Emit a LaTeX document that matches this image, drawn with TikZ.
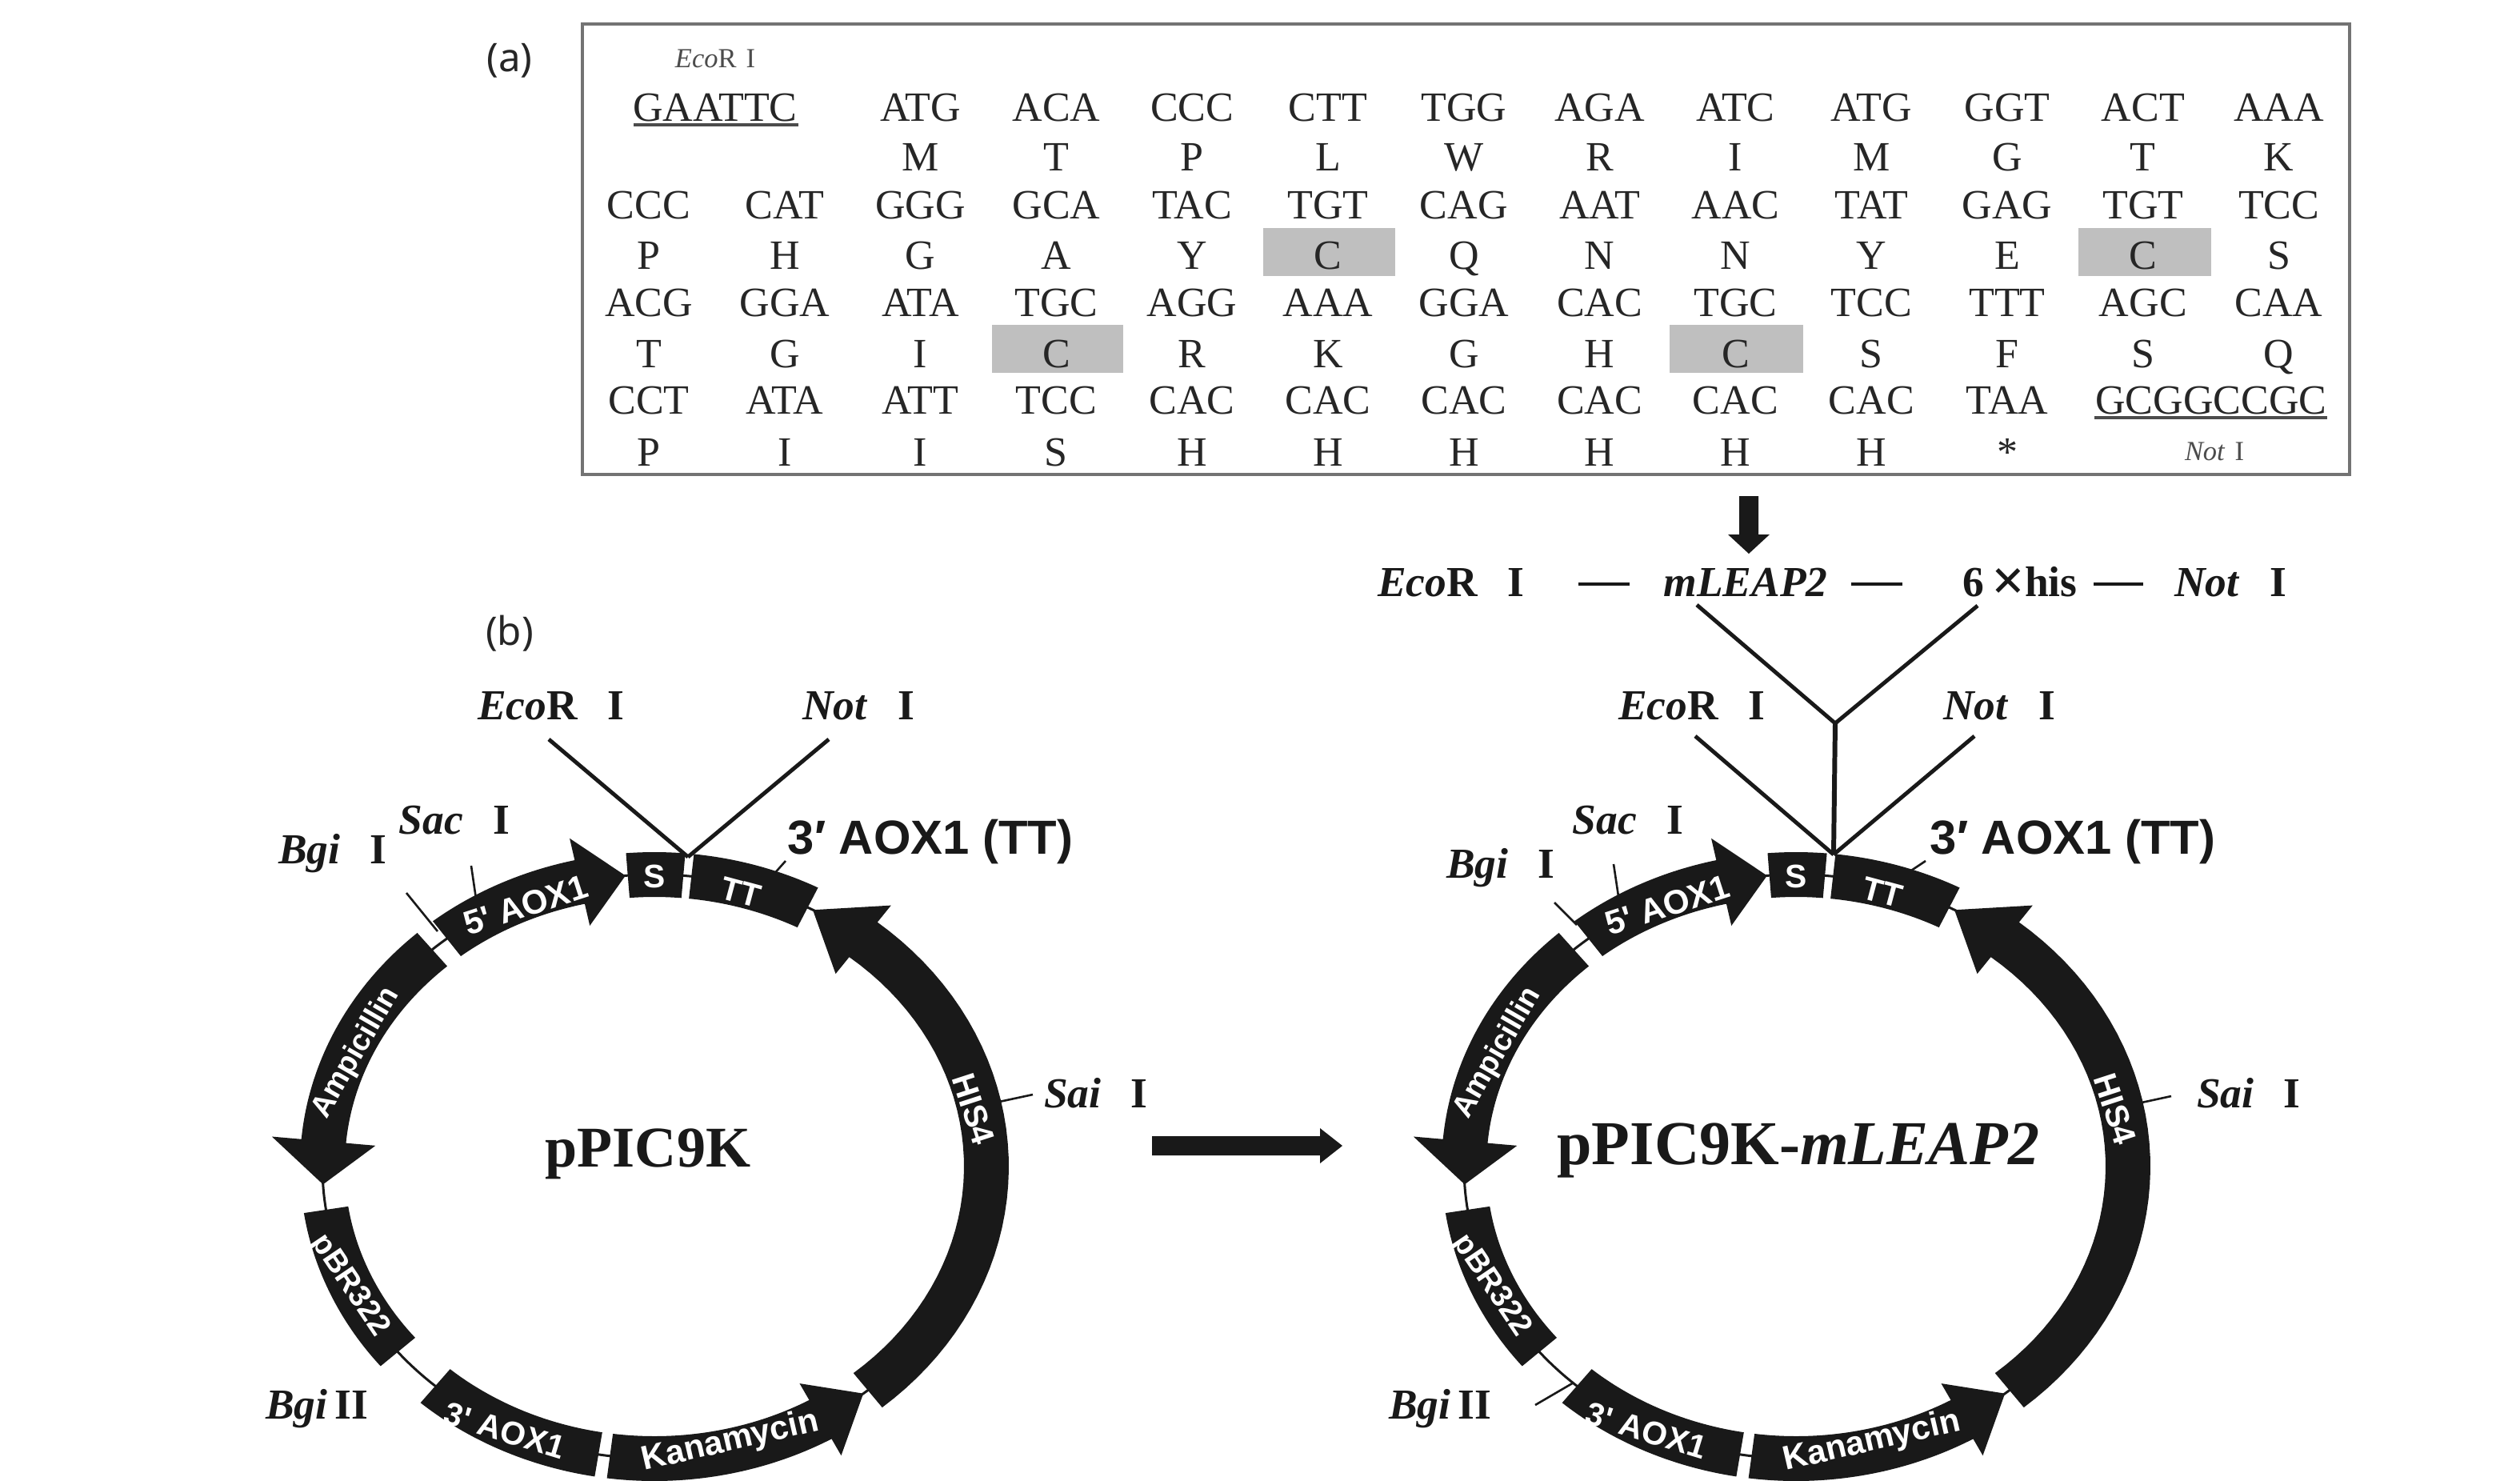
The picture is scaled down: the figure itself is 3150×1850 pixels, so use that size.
\documentclass[tikz,border=0pt]{standalone}
\usepackage{fontspec}
\setmainfont{Liberation Serif}
\newfontfamily\lsans{Liberation Sans}
\newfontfamily\nsans{Noto Sans}
\newcommand\rowtext[3]{%
  \foreach \t [count=\c from #2] in {#3} {
    \pgfmathsetmacro\xx{811+169.8*(\c-1)}
    \node[seq] (s#1c\c) at (\xx,#1) {\t};
  }}
\newcommand\enzgap{\hspace{0.7em}}
% band along the ring from angle a to b
\newcommand\band[2]{%
  \fill[ink] plot[domain=#1:#2,samples=30] ({818+443*cos(\x)},{1458+393*sin(\x)})
    -- plot[domain=#2:#1,samples=30] ({818+387*cos(\x)},{1458+337*sin(\x)}) -- cycle;}
% arrow along the ring: tail #1, head base #2, tip #3, head half-width #4
\newcommand\arrowband[4]{%
  \fill[ink] plot[domain=#1:#2,samples=40] ({818+443*cos(\x)},{1458+393*sin(\x)})
    -- ({818+(415+#4)*cos(#2)},{1458+(365+#4)*sin(#2)})
    -- ({818+415*cos(#3)},{1458+365*sin(#3)})
    -- ({818+(415-#4)*cos(#2)},{1458+(365-#4)*sin(#2)})
    -- plot[domain=#2:#1,samples=40] ({818+387*cos(\x)},{1458+337*sin(\x)}) -- cycle;}
\newcommand\plasmidring[1]{%
  \draw[ink,line width=3*0.2845pt] (818,1458) ellipse [x radius=415,y radius=365];
  \band{265.4}{275}
  \band{276.4}{297.5}
  \arrowband{50}{-51}{-61.5}{55}
  \arrowband{97.7}{60}{51}{52}
  \band{99.7}{131.3}
  \band{171.5}{140.6}
  \arrowband{228}{185}{176.5}{65}
  \arrowband{231.3}{257}{265}{56}
  \node[gene] (#1s) at (818,1095) {S};
  \node[gene,rotate=-15] (#1tt) at (926,1115) {TT};
  \node[gene,rotate=-72] (#1his) at (1217,1386) {HIS4};
  \node[gene,rotate=13,font=\lsans\bfseries\fontsize{12}{13}\selectfont] (#1kan) at (913,1802) {Kanamycin};
  \node[gene,rotate=-17] (#1aox3) at (631,1788) {3' AOX1};
  \node[gene,rotate=-56,font=\lsans\bfseries\fontsize{11}{13}\selectfont] (#1pbr) at (437,1607) {pBR322};
  \node[gene,rotate=60,font=\lsans\bfseries\fontsize{10.8}{13}\selectfont] (#1amp) at (445,1316) {Ampicillin};
  \node[gene,rotate=18,font=\lsans\bfseries\fontsize{12}{13}\selectfont] (#1aox5) at (657,1131) {5' AOX1};
}
\tikzset{
  ink/.style={color=black!90},
  seq/.style={anchor=base,inner sep=0pt,text=black!85,font=\fontsize{14.8}{16}\selectfont},
  enz/.style={inner sep=0pt,text=black!90,font=\fontsize{15.2}{17}\selectfont},
  enzbase/.style={enz,anchor=base},
  small/.style={inner sep=0pt,text=black!70,font=\fontsize{9.8}{11}\selectfont},
  gene/.style={inner sep=0pt,text=white,font=\lsans\bfseries\fontsize{11.6}{13}\selectfont},
  ttlabel/.style={inner sep=0pt,text=black!90,font=\lsans\bfseries\fontsize{17}{19}\selectfont},
  paneltag/.style={inner sep=0pt,text=black!85,font=\nsans\fontsize{14}{16}\selectfont},
  site/.style={ink,line width=2.6*0.2845pt},
  arm/.style={ink,line width=1.4pt},
  shade/.style={fill=black!25,draw=none},
}
\begin{document}
\begin{tikzpicture}[x=0.01cm,y=-0.01cm]
\useasboundingbox (0,0) rectangle (3150,1850);
\fill[white] (0,0) rectangle (3150,1850);
% panel tags
\node[paneltag] (taga) at (637,76) {(a)};
\node[paneltag] (tagb) at (637,792) {(b)};
% sequence box
\draw[black!55,line width=1.2pt] (728,30) rectangle (2937,593);
\fill[shade] (1579,285) rectangle (1744,345);
\fill[shade] (2598,285) rectangle (2764,345);
\fill[shade] (1240,406) rectangle (1404,466);
\fill[shade] (2087,406) rectangle (2254,466);
\node[small] (eco) at (894,73) {\textit{Eco}R\hspace{0.35em}I};
\node[seq] (gaattc) at (894,151) {GAATTC};
\draw[black!70,line width=0.9pt] (792,156) -- (998,156);
\rowtext{151}{3}{ATG,ACA,CCC,CTT,TGG,AGA,ATC,ATG,GGT,ACT,AAA}
\rowtext{213}{3}{M,T,P,L,W,R,I,M,G,T,K}
\rowtext{273}{1}{CCC,CAT,GGG,GCA,TAC,TGT,CAG,AAT,AAC,TAT,GAG,TGT,TCC}
\rowtext{336}{1}{P,H,G,A,Y,C,Q,N,N,Y,E,C,S}
\rowtext{395}{1}{ACG,GGA,ATA,TGC,AGG,AAA,GGA,CAC,TGC,TCC,TTT,AGC,CAA}
\rowtext{459}{1}{T,G,I,C,R,K,G,H,C,S,F,S,Q}
\rowtext{517}{1}{CCT,ATA,ATT,TCC,CAC,CAC,CAC,CAC,CAC,CAC,TAA}
\rowtext{582}{1}{P,I,I,S,H,H,H,H,H,H,*}
\node[seq] (gcgg) at (2764,517) {GCGGCCGC};
\draw[black!70,line width=0.9pt] (2618,522) -- (2909,522);
\node[small] (not) at (2768,564) {\textit{Not}\hspace{0.35em}I};
% down arrow and construct row
\fill[ink] (2174,620) -- (2198,620) -- (2198,668) -- (2212,668) -- (2186,692) -- (2160,668) -- (2174,668) -- cycle;
\node[enzbase] (t1) at (1814,745) {\textbf{\textit{Eco}R}\enzgap\textbf{I}};
\node[enzbase] (t2) at (2182,745) {\textbf{\textit{mLEAP2}}};
\node[enzbase] (t3) at (2525,745) {\textbf{6\,\raisebox{-0.1em}{\fontsize{21}{21}\selectfont×}his}};
\node[enzbase] (t4) at (2788,745) {\textbf{\textit{Not}}\enzgap\textbf{I}};
\coordinate (d1a) at (1973,730); \coordinate (d1b) at (2037,730);
\coordinate (d2a) at (2314,730); \coordinate (d2b) at (2378,730);
\coordinate (d3a) at (2617,730); \coordinate (d3b) at (2679,730);
\draw[arm] (d1a) -- (d1b) (d2a) -- (d2b) (d3a) -- (d3b);
% left plasmid
\plasmidring{l}
\node[inner sep=0pt,text=black!90,font=\fontsize{20.5}{22}\selectfont\bfseries] (lname) at (810,1442) {pPIC9K};
\node[enz] (leco) at (689,882) {\textbf{\textit{Eco}R}\enzgap\textbf{I}};
\node[enz] (lnot) at (1073,882) {\textbf{\textit{Not}}\enzgap\textbf{I}};
\node[enz] (lsac) at (568,1025) {\textbf{\textit{Sac}}\enzgap\textbf{I}};
\node[enz] (lbgi) at (416,1067) {\textbf{\textit{Bgi}}\enzgap\textbf{I}};
\node[ttlabel] (ltt) at (1163,1052) {3′ AOX1 (TT)};
\node[enz] (lsai) at (1370,1366) {\textbf{\textit{Sai}}\enzgap\textbf{I}};
\node[enz] (lbgii) at (396,1761) {\textbf{\textit{Bgi}\,II}};
\coordinate (lj) at (860,1071);
\coordinate (le) at (686,924);
\coordinate (ln) at (1036,924);
\draw[arm] (le) -- (lj);
\draw[arm] (ln) -- (lj);
\coordinate (a1) at (1249,1377); \coordinate (a2) at (1291,1368);
\coordinate (a3) at (508,1116); \coordinate (a4) at (547,1164);
\coordinate (a5) at (589,1082); \coordinate (a6) at (595,1123);
\coordinate (a7) at (966,1094); \coordinate (a8) at (982,1076);
\draw[site] (a1) -- (a2) (a3) -- (a4) (a5) -- (a6) (a7) -- (a8);
% horizontal arrow
\fill[ink] (1440,1420) -- (1650,1420) -- (1650,1410) -- (1678,1432) -- (1650,1454) -- (1650,1444) -- (1440,1444) -- cycle;
% right plasmid
\begin{scope}[shift={(1427,0)}]
\plasmidring{r}
\end{scope}
\node[inner sep=0pt,text=black!90,font=\fontsize{22.2}{24}\selectfont\bfseries] (rname) at (2248,1438) {pPIC9K-\textit{mLEAP2}};
\node[enz] (reco) at (2115,882) {\textbf{\textit{Eco}R}\enzgap\textbf{I}};
\node[enz] (rnot) at (2499,882) {\textbf{\textit{Not}}\enzgap\textbf{I}};
\node[enz] (rsac) at (2035,1025) {\textbf{\textit{Sac}}\enzgap\textbf{I}};
\node[enz] (rbgi) at (1876,1085) {\textbf{\textit{Bgi}}\enzgap\textbf{I}};
\node[ttlabel] (rtt) at (2591,1052) {3′ AOX1 (TT)};
\node[enz] (rsai) at (2811,1366) {\textbf{\textit{Sai}}\enzgap\textbf{I}};
\node[enz] (rbgii) at (1800,1761) {\textbf{\textit{Bgi}\,II}};
\coordinate (rj) at (2292,1068);
\coordinate (rf) at (2294,904);
\coordinate (re) at (2119,920);
\coordinate (rn) at (2468,920);
\coordinate (fe) at (2121,756);
\coordinate (fn) at (2472,757);
\draw[arm] (re) -- (rj);
\draw[arm] (rn) -- (rj);
\draw[arm,line width=1.7pt] (rf) -- (rj);
\draw[arm] (fe) -- (rf);
\draw[arm] (fn) -- (rf);
\coordinate (b1) at (2677,1378); \coordinate (b2) at (2714,1370);
\coordinate (b3) at (1943,1128); \coordinate (b4) at (1971,1156);
\coordinate (b5) at (2017,1080); \coordinate (b6) at (2023,1120);
\coordinate (b7) at (2383,1092); \coordinate (b8) at (2407,1076);
\coordinate (b9) at (1919,1756); \coordinate (b10) at (1967,1728);
\draw[site] (b1) -- (b2) (b3) -- (b4) (b5) -- (b6) (b7) -- (b8) (b9) -- (b10);
\end{tikzpicture}
\end{document}
